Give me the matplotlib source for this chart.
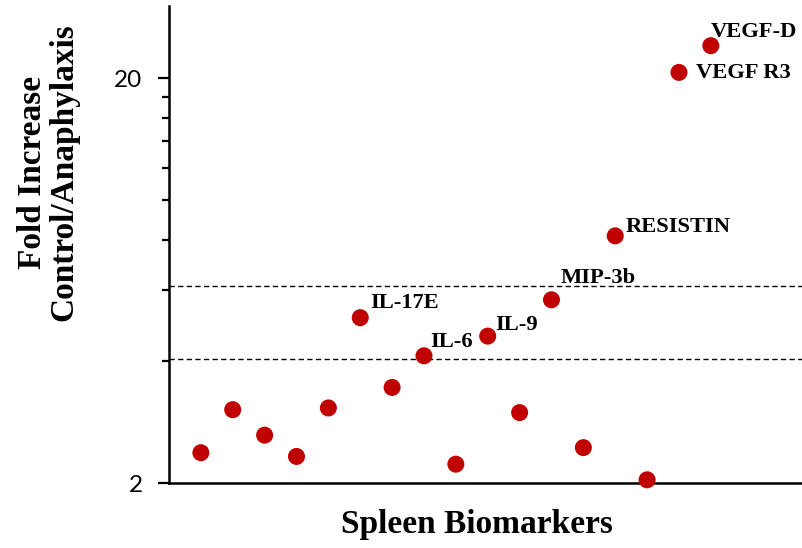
import numpy as np
import matplotlib.pyplot as plt
from matplotlib.ticker import FixedLocator, NullFormatter

# --- Fold increase per spleen biomarker (log scale) ---
positions = np.arange(1, 18)
fold_change = [2.38, 3.04, 2.63, 2.33, 3.07, 5.13, 3.45, 4.13, 2.23,
               4.62, 2.99, 5.68, 2.45, 8.17, 2.04, 20.7, 24.1]
labels = ["", "", "", "", "", "IL-17E", "", "IL-6", "",
          "IL-9", "", "MIP-3b", "", "RESISTIN", "", "VEGF R3", "VEGF-D"]
# label offsets in pixels (left edge / baseline relative to marker centre)
label_offsets = {"IL-17E": (10, 10), "IL-6": (6, 9), "IL-9": (8, 6),
                 "MIP-3b": (9, 17), "RESISTIN": (10, 4),
                 "VEGF R3": (17, -6), "VEGF-D": (0, 9)}
thresholds = [4.06, 6.15]
major_ticks = [2, 20]
minor_ticks = [4, 6, 8, 10, 12, 14, 16, 18]

serif = "Liberation Serif"

fig = plt.figure(figsize=(8.02, 5.48), dpi=100)
ax = fig.add_axes([169 / 802, 1 - 483.3 / 548, 1 - 169 / 802, (483.3 - 6) / 548])

for y in thresholds:
    ax.axhline(y, color="black", linewidth=1.0, dashes=(3.8, 2.4), zorder=1)

ax.scatter(positions, fold_change, s=150, color="#C00000", edgecolors="none",
           zorder=4, clip_on=False)

for x, y, lab in zip(positions, fold_change, labels):
    if lab:
        dx, dy = label_offsets[lab]
        ax.annotate(lab, (x, y), xytext=(dx, dy), textcoords="offset pixels",
                    ha="left", va="baseline", fontsize=16.2, fontweight="bold",
                    family=serif, zorder=5)

ax.set_yscale("log")
ax.set_ylim(2, 30.2)
ax.set_xlim(0, 19.86)
ax.yaxis.set_major_locator(FixedLocator(major_ticks))
ax.yaxis.set_minor_locator(FixedLocator(minor_ticks))
ax.yaxis.set_minor_formatter(NullFormatter())
ax.set_yticklabels([str(t) for t in major_ticks], family="Lato", fontsize=17.5)
ax.tick_params(axis="y", which="major", length=8, width=1.6, pad=11)
ax.tick_params(axis="y", which="minor", length=5, width=1.6)
ax.set_xticks([])

for side in ["top", "right"]:
    ax.spines[side].set_visible(False)
for side in ["left", "bottom"]:
    ax.spines[side].set_linewidth(1.8)
ax.spines["bottom"].set_zorder(2)

fig.text(477 / 802, 1 - 524 / 548, "Spleen Biomarkers", ha="center", va="center",
         fontsize=24, fontweight="bold", family=serif)
fig.text(48 / 802, 1 - 172 / 548, "Fold Increase\nControl/Anaphylaxis",
         ha="center", va="center", rotation=90, fontsize=24, fontweight="bold",
         family=serif, linespacing=1.0)

fig.savefig("out.png", dpi=100)
